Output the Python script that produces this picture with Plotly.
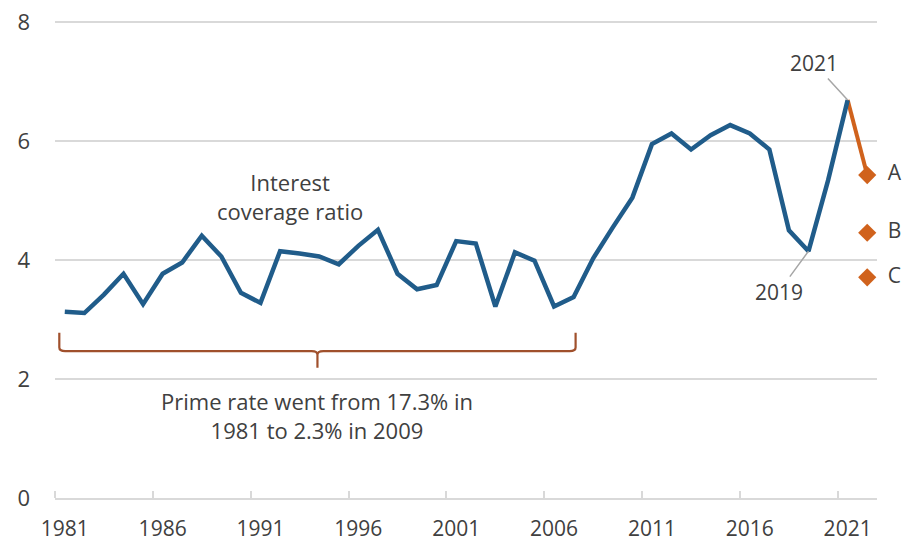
import plotly.graph_objects as go

# ---- data ----
years = list(range(1981, 2022))
coverage = [3.13, 3.11, 3.42, 3.77, 3.26, 3.77, 3.96, 4.41, 4.06, 3.45,
            3.28, 4.15, 4.11, 4.06, 3.93, 4.24, 4.51, 3.77, 3.51, 3.58,
            4.32, 4.28, 3.22, 4.13, 3.99, 3.22, 3.38, 4.03, 4.55, 5.05,
            5.95, 6.13, 5.86, 6.10, 6.27, 6.13, 5.86, 4.50, 4.15, 5.34,
            6.69]
scenario_year = 2022
scenario_labels = ["A", "B", "C"]
scenario_values = [5.43, 4.46, 3.71]
tick_years = [1981, 1986, 1991, 1996, 2001, 2006, 2011, 2016, 2021]
tick_labels = [str(y) for y in tick_years]
y_ticks = [0, 2, 4, 6, 8]
bracket_years = [1980.72, 2007.1]

BLUE = "#205C8A"
ORANGE = "#D0621C"
BROWN = "#A0502C"
GRID = "#D9D9D9"
TEXT = "#404040"
FONT = "Open Sans"
FS = 22

fig = go.Figure()

# orange continuation from 2021 to scenario A
fig.add_trace(go.Scatter(
    x=[years[-1], scenario_year], y=[coverage[-1], scenario_values[0]],
    mode="lines", line=dict(color=ORANGE, width=4), hoverinfo="skip",
    showlegend=False))

fig.add_trace(go.Scatter(
    x=years, y=coverage, mode="lines",
    line=dict(color=BLUE, width=4.5), showlegend=False))

fig.add_trace(go.Scatter(
    x=[scenario_year] * len(scenario_values), y=scenario_values,
    mode="markers+text", text=["  " + s for s in scenario_labels],
    textposition="middle right", cliponaxis=False,
    textfont=dict(family=FONT, size=FS - 1, color=TEXT),
    marker=dict(symbol="diamond", size=14, color=ORANGE),
    showlegend=False))

# bracket
x0, x1 = bracket_years
xm = (x0 + x1) / 2
ytop, yh, ytip = 2.78, 2.47, 2.19
dx, dy = 0.3, 0.06
path = (f"M {x0},{ytop} L {x0},{yh+dy} Q {x0},{yh} {x0+dx},{yh} "
        f"L {xm-dx},{yh} Q {xm},{yh} {xm},{yh-dy} L {xm},{ytip} "
        f"M {xm},{yh-dy} Q {xm},{yh} {xm+dx},{yh} "
        f"L {x1-dx},{yh} Q {x1},{yh} {x1},{yh+dy} L {x1},{ytop}")
fig.add_shape(type="path", path=path, xref="x", yref="y",
              line=dict(color=BROWN, width=2.2))

fig.add_annotation(x=1992.5, y=5.07, text="Interest<br>coverage ratio",
                   showarrow=False, font=dict(family=FONT, size=FS, color=TEXT),
                   align="center")
fig.add_annotation(x=1993.9, y=1.39,
                   text="Prime rate went from 17.3% in<br>1981 to 2.3% in 2009",
                   showarrow=False, font=dict(family=FONT, size=FS, color=TEXT),
                   align="center")
fig.add_annotation(x=years[-1], y=coverage[-1], text="2021", showarrow=True,
                   arrowhead=0, arrowwidth=1.5, arrowcolor="#A6A6A6",
                   ax=-34, ay=-37, font=dict(family=FONT, size=FS - 1, color=TEXT))
fig.add_annotation(x=2019, y=coverage[years.index(2019)], text="2019",
                   showarrow=True, arrowhead=0, arrowwidth=1.5,
                   arrowcolor="#A6A6A6", ax=-30, ay=41,
                   font=dict(family=FONT, size=FS - 1, color=TEXT))

fig.update_layout(
    width=907, height=544,
    margin=dict(l=55, r=30, t=21, b=46),
    plot_bgcolor="white", paper_bgcolor="white",
    font=dict(family=FONT, size=FS, color=TEXT),
    xaxis=dict(range=[1980.5, 2022.5], tickmode="array", tickvals=tick_years,
               ticktext=tick_labels, ticks="", showgrid=False, zeroline=False,
               showline=True, linecolor=GRID, linewidth=1.5,
               ticklabelstandoff=11, automargin=False,
               ticklabeloverflow="allow",
               minor=dict(tickmode="array",
                          tickvals=[y - 0.5 for y in tick_years],
                          ticks="inside", ticklen=7, tickwidth=1.5,
                          tickcolor=GRID, showgrid=False),
               tickfont=dict(family=FONT, size=FS - 1, color=TEXT)),
    yaxis=dict(range=[0, 8.02], tickmode="array", tickvals=y_ticks, ticks="",
               showgrid=True, gridcolor=GRID, gridwidth=1.5, zeroline=False,
               showline=False, ticklabelstandoff=24, automargin=False,
               ticklabeloverflow="allow",
               tickfont=dict(family=FONT, size=FS, color=TEXT)),
)

fig.write_html(
    "out.html",
    config={"displayModeBar": False},
    post_script="document.body.style.margin='0';"
                "document.body.style.overflow='hidden';")
